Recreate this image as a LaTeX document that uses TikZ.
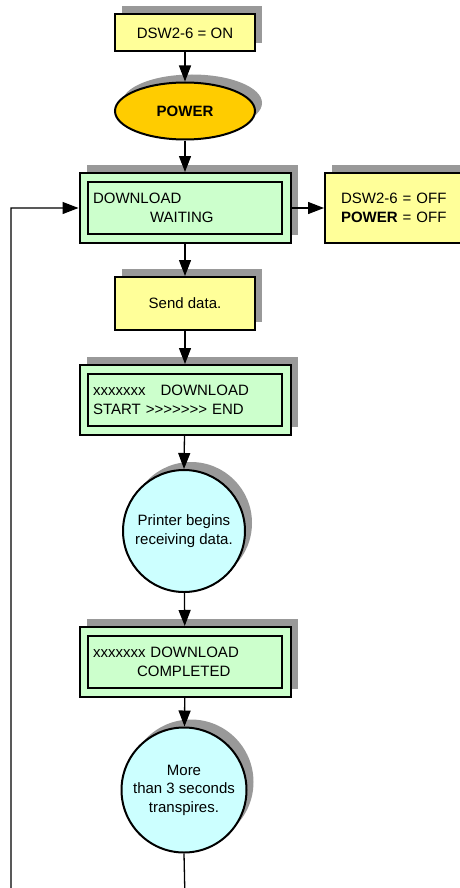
\documentclass[tikz,border=0pt]{standalone}
\usepackage{fontspec}
\setmainfont{Liberation Sans}
\usetikzlibrary{arrows.meta,shadows,shapes.geometric}
\definecolor{noteyellow}{HTML}{FFFF99}
\definecolor{lcdgreen}{HTML}{CCFFCC}
\definecolor{procblue}{HTML}{CCFFFF}
\definecolor{powergold}{HTML}{FFCC00}
\definecolor{shadowgray}{HTML}{999999}
% a single '>' that cannot merge with its neighbour into a guillemet
\newcommand\gtsign{>\kern0pt}
\begin{document}
\begin{tikzpicture}[x=1pt,y=-1pt,
  font=\fontsize{15}{18.5}\selectfont,
  boxshadow/.style={drop shadow={shadow xshift=7pt,shadow yshift=8pt,fill=shadowgray,opacity=1}},
  stepbox/.style={draw,line width=2pt,fill=noteyellow,minimum width=140pt,inner sep=0pt,boxshadow},
  lcdouter/.style={draw,line width=2pt,fill=lcdgreen,minimum width=211pt,minimum height=70pt,inner sep=0pt,boxshadow},
  lcdinner/.style={draw,line width=2pt,text width=184pt,inner xsep=5pt,inner ysep=0pt,minimum height=52pt,align=left},
  roundstep/.style={circle,draw,line width=2pt,fill=procblue,inner sep=0pt,align=center,boxshadow},
  flow/.style={line width=1.3pt,-{Triangle[width=12pt,length=16pt]}}]
\useasboundingbox (0,0) rectangle (460,888);
\clip (0,0) rectangle (460,888);

% switch setting and power-on
\node[stepbox,minimum height=37pt] (dswon) at (185,33) {DSW2-6 = ON};
\node[ellipse,draw,line width=2pt,fill=powergold,minimum width=140pt,minimum height=57pt,inner sep=0pt,boxshadow,font=\fontsize{15}{18.5}\selectfont\bfseries] (power) at (185,111) {POWER};

% download waiting display
\node[lcdouter] (wait) at (185,208) {};
\node[lcdinner] (waittext) at (185,208) {DOWNLOAD\\\hspace*{57pt}WAITING};

% exit condition
\node[draw,line width=2pt,fill=noteyellow,text width=118pt,inner xsep=16pt,minimum height=70pt,align=left,boxshadow] (off) at (400,208) {DSW2-6 = OFF\\\textbf{POWER} = OFF};

\node[stepbox,minimum height=53pt] (send) at (185,303.5) {Send data.};

% download start display
\node[lcdouter] (start) at (185,400) {};
\node[lcdinner] (starttext) at (185,400) {xxxxxxx\hspace*{15pt}DOWNLOAD\\START \gtsign\gtsign\gtsign\gtsign\gtsign\gtsign\gtsign\ END};

\node[roundstep,minimum size=122pt] (recv) at (184,531) {Printer begins\\receiving data.};

% download completed display
\node[lcdouter] (done) at (185,662) {};
\node[lcdinner] (donetext) at (185,662) {xxxxxxx DOWNLOAD\\\hspace*{44pt}COMPLETED};

\node[roundstep,minimum size=125pt] (timeout) at (184,790) {More\\than 3 seconds\\transpires.};

% connectors
\draw[flow] (dswon) -- (power);
\draw[flow] (power) -- (wait);
\draw[flow] (wait) -- (off);
\draw[flow] (wait) -- (send);
\draw[flow] (send) -- (start);
\draw[flow] (start) -- (recv.north);
\draw[flow] (recv) -- (done);
\draw[flow] (done) -- (timeout);

% return loop back to the waiting display
\coordinate (loopa) at (185,900);
\coordinate (loopb) at (11,900);
\draw[flow] (timeout.south) -- (loopa) -- (loopb) |- (wait.west);
\end{tikzpicture}
\end{document}
